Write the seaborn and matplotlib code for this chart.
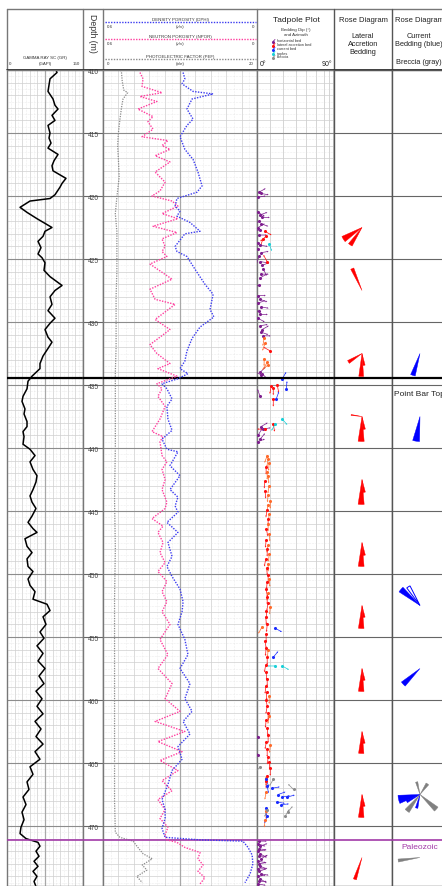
import numpy as np
import matplotlib
matplotlib.use("Agg")
import matplotlib.pyplot as plt
import seaborn as sns
from matplotlib.ticker import MultipleLocator, FixedLocator, NullLocator

sns.set_style("white")
plt.rcParams['font.family'] = ['Liberation Sans', 'DejaVu Sans']

# ---------------- data ----------------
# gamma ray (GAPI)
gr_depth = [410.0, 410.2, 410.7, 411.2, 411.7, 412.3, 412.8, 413.1, 413.6, 414.0,
            414.4, 415.0, 415.4, 415.8, 416.2, 416.7, 417.2, 417.6, 418.0, 418.6,
            419.0, 419.3, 419.9, 420.2, 420.4, 420.9, 421.3, 421.8, 422.5, 422.8,
            423.2, 423.6, 424.1, 424.6, 424.9, 425.3, 425.9, 426.4, 427.1, 427.5,
            428.0, 428.6, 429.1, 429.7, 430.1, 430.6, 431.2, 431.6, 432.1, 432.7,
            433.3, 433.7, 434.3, 434.7, 435.3, 435.9, 436.3, 436.9, 437.3, 437.9,
            438.3, 438.7, 439.1, 439.7, 440.1, 440.6, 441.1, 441.7, 442.2, 442.7,
            443.3, 443.8, 444.3, 444.8, 445.4, 445.9, 446.4, 446.7, 447.2, 447.8,
            448.3, 448.8, 449.4, 449.8, 450.4, 450.9, 451.4, 452.0, 452.4, 452.9,
            453.4, 454.0, 454.6, 455.1, 455.7, 456.3, 456.9, 457.5, 458.1, 458.7,
            459.3, 459.9, 460.5, 461.1, 461.7, 462.3, 462.9, 463.5, 464.1, 464.7,
            465.3, 465.9, 466.5, 467.1, 467.7, 468.3, 468.9, 469.5, 470.1, 470.6,
            471.0, 471.3, 471.6, 472.0, 472.4, 472.8, 473.2, 473.6, 474.0, 474.4,
            474.8]
gr_api = [96.7, 98.7, 84.9, 82.9, 80.9, 90.8, 94.7, 100.7, 88.8, 94.7,
          80.9, 84.9, 82.9, 86.9, 80.9, 100.7, 92.8, 88.8, 90.8, 116.4,
          108.6, 104.6, 94.7, 84.9, 45.4, 25.7, 39.5, 59.2, 88.8, 75.0,
          71.1, 61.2, 67.1, 61.2, 69.1, 75.0, 73.0, 84.9, 108.6, 94.7,
          84.9, 88.8, 80.9, 94.7, 84.9, 75.0, 80.9, 88.8, 80.9, 71.1,
          65.1, 65.1, 49.4, 41.5, 39.5, 31.6, 29.6, 35.5, 33.6, 39.5,
          39.5, 31.6, 33.6, 31.6, 45.4, 55.3, 45.4, 51.3, 59.2, 57.2,
          51.3, 45.4, 49.4, 57.2, 49.4, 41.5, 51.3, 59.2, 35.5, 39.5,
          49.4, 39.5, 41.5, 51.3, 41.5, 45.4, 55.3, 51.3, 79.0, 84.9,
          71.1, 77.0, 65.1, 73.0, 59.2, 71.1, 61.2, 75.0, 63.2, 73.0,
          57.2, 69.1, 59.2, 71.1, 55.3, 67.1, 57.2, 71.1, 55.3, 65.1,
          45.4, 51.3, 39.5, 43.4, 31.6, 37.5, 29.6, 33.6, 27.6, 25.7,
          37.5, 61.2, 65.1, 57.2, 63.2, 53.3, 61.2, 51.3, 59.2, 53.3,
          57.2]

# neutron porosity (v/v)
npor_depth = [410.2, 410.7, 411.3, 411.8, 412.1, 412.5, 413.1, 413.7, 414.1, 414.7,
              415.3, 415.6, 416.0, 416.3, 416.8, 417.3, 418.1, 418.9, 419.6, 420.0,
              420.4, 420.8, 421.4, 421.8, 422.4, 422.9, 423.4, 424.0, 424.4, 424.8,
              425.4, 426.6, 427.4, 428.2, 428.6, 429.8, 430.6, 431.8, 432.5, 433.3,
              433.7, 434.3, 434.9, 435.3, 435.9, 436.7, 437.1, 437.7, 438.7, 439.1,
              439.5, 440.6, 441.1, 441.7, 442.5, 443.3, 444.3, 444.8, 445.6, 446.2,
              446.7, 447.5, 448.3, 449.1, 449.8, 450.6, 451.4, 452.2, 453.0, 454.0,
              455.2, 456.4, 457.5, 458.7, 459.9, 460.9, 461.7, 462.5, 463.3, 464.1,
              464.8, 465.6, 466.4, 467.2, 467.9, 468.7, 469.4, 470.1, 470.7, 471.1,
              471.3, 471.7, 472.1, 472.6, 473.1, 473.6, 474.1, 474.6]
npor = [.456, .444, .448, .370, .456, .390, .464, .405, .425, .405,
        .448, .347, .370, .339, .397, .339, .397, .358, .378, .409,
        .331, .308, .370, .308, .405, .312, .370, .358, .370, .351,
        .417, .331, .417, .397, .319, .397, .339, .417, .390, .339,
        .386, .312, .390, .370, .386, .358, .366, .378, .409, .366,
        .378, .370, .351, .370, .358, .370, .351, .358, .409, .366,
        .386, .366, .378, .358, .386, .351, .370, .351, .370, .339,
        .378, .347, .386, .331, .358, .300, .397, .281, .386, .292,
        .378, .308, .370, .331, .386, .358, .378, .347, .358, .351,
        .312, .281, .222, .230, .210, .230, .203, .222]

# density porosity (v/v)
dphi_depth = [410.2, 410.7, 411.1, 411.7, 411.9, 412.3, 413.1, 413.9, 414.4, 415.3,
              416.3, 417.1, 418.1, 419.2, 419.7, 420.2, 420.8, 421.2, 421.6, 422.1,
              422.8, 423.0, 424.0, 424.4, 424.8, 425.8, 427.0, 427.8, 429.0, 429.6,
              430.4, 431.3, 432.3, 433.1, 433.7, 434.1, 434.5, 434.9, 435.3, 436.1,
              436.7, 437.7, 438.6, 439.3, 440.1, 440.3, 441.4, 442.2, 443.3, 443.9,
              444.6, 445.1, 445.9, 446.7, 447.5, 448.6, 449.4, 450.2, 451.2, 452.2,
              453.0, 454.0, 455.2, 456.4, 457.5, 458.7, 459.9, 460.9, 461.7, 462.7,
              463.7, 464.7, 465.6, 466.7, 467.9, 468.7, 469.4, 470.2, 470.9, 471.1,
              471.2, 471.7, 472.3, 473.0, 473.8, 474.5]
dphi = [.288, .281, .292, .249, .171, .253, .273, .249, .273, .300,
        .281, .249, .230, .214, .234, .312, .319, .300, .312, .261,
        .222, .281, .319, .312, .273, .242, .203, .171, .183, .168,
        .222, .253, .273, .281, .300, .269, .308, .370, .351, .331,
        .351, .347, .331, .370, .351, .308, .339, .300, .339, .308,
        .319, .308, .351, .308, .347, .331, .351, .331, .300, .288,
        .292, .308, .281, .269, .300, .261, .281, .253, .288, .261,
        .308, .292, .331, .347, .370, .358, .358, .370, .358, .222,
        .055, .035, .019, .016, .027, .047]

# photoelectric factor (b/e)
pef_depth = [410.0, 410.2, 410.9, 411.6, 411.8, 412.3, 413.0, 413.9, 415.0, 416.0,
             417.1, 418.5, 420.1, 421.4, 422.8, 424.4, 426.0, 428.0, 430.0, 432.0,
             434.0, 436.0, 440.0, 444.0, 448.0, 452.0, 456.0, 460.0, 464.0, 468.0,
             470.5, 470.9, 471.2, 471.6, 472.2, 472.6, 473.1, 473.5, 474.0, 474.5]
pef = [2.3, 2.4, 2.5, 2.7, 3.2, 2.6, 2.4, 2.2, 2.0, 1.9,
       2.0, 2.1, 1.8, 1.6, 1.8, 1.8, 1.8, 1.7, 1.7, 1.7,
       1.6, 1.6, 1.6, 1.5, 1.6, 1.5, 1.5, 1.5, 1.5, 1.5,
       1.6, 2.2, 3.9, 4.4, 5.2, 6.4, 5.1, 5.7, 4.4, 5.1]

# tadpoles: horizontal bed
hb_depth = [419.7, 419.8, 420.1, 421.3, 421.5, 421.7, 422.0, 422.2, 422.5, 422.7,
            423.1, 423.7, 423.9, 424.2, 424.5, 424.8, 425.2, 425.5, 425.8, 426.2,
            426.5, 427.1, 427.9, 428.2, 428.5, 428.8, 429.1, 429.4, 429.7, 430.3,
            430.6, 430.8, 431.1, 434.0, 434.1, 434.2, 435.9, 438.3, 438.5, 439.0,
            439.3, 439.5, 462.9, 464.4, 471.2, 471.4, 471.6, 471.8, 472.0, 472.2,
            472.4, 472.6, 472.8, 473.0, 473.2, 473.4, 473.6, 473.8, 474.0, 474.2,
            474.4, 474.6]
hb_dip = [1.5, 3.0, 0.8, 0.8, 2.3, 3.8, 1.5, 3.0, 0.8, 2.3,
          1.5, 0.5, 2.3, 0.8, 3.0, 1.5, 2.3, 3.8, 4.5, 3.0,
          2.3, 1.5, 0.8, 2.3, 0.8, 3.0, 1.5, 2.3, 0.8, 2.3,
          3.8, 3.0, 4.5, 2.3, 3.8, 3.0, 2.3, 3.0, 4.5, 0.8,
          2.3, 0.5, 0.8, 0.8, 1.5, 0.8, 2.3, 1.5, 0.8, 2.3,
          1.5, 3.0, 0.8, 1.5, 2.3, 0.8, 1.5, 3.0, 0.8, 2.3,
          1.5, 0.8]
hb_az = [60, 100, 80, 120, 70, 90, 240, 110, 60, 260,
         90, 280, 100, 250, 80, 200, 100, 70, 150, 90,
         60, 270, 90, 110, 70, 100, 250, 90, 120, 80,
         60, 110, 90, 45, 135, 300, 340, 60, 80, 30,
         40, 70, 300, 330, 90, 110, 70, 100, 80, 120,
         90, 60, 100, 80, 110, 90, 70, 100, 80, 120,
         90, 100]

# lateral accretion bed (red)
la_depth = [422.8, 423.2, 423.4, 425.2, 432.3, 435.1, 435.2, 435.0, 436.1, 438.1,
            438.5, 441.5, 442.6, 443.4, 444.9, 445.6, 446.4, 447.3, 448.0, 448.8,
            449.5, 450.1, 450.6, 451.2, 451.8, 452.3, 452.9, 453.4, 454.0, 454.8,
            455.3, 455.9, 456.6, 457.2, 457.8, 458.3, 458.9, 459.4, 460.0, 460.5,
            461.0, 461.6, 462.2, 462.8, 463.3, 463.9, 464.5, 464.9, 465.4, 466.0,
            466.4]
la_dip = [5.9, 6.8, 4.5, 7.6, 9.9, 10.6, 12.2, 15.3, 12.2, 12.2,
          5.9, 6.8, 5.9, 6.0, 7.6, 8.3, 7.0, 6.8, 7.6, 6.5,
          7.2, 8.3, 7.6, 6.8, 7.6, 8.3, 7.0, 6.5, 7.6, 6.8,
          5.9, 6.8, 7.6, 6.5, 6.8, 7.6, 6.5, 7.2, 6.8, 7.6,
          8.3, 6.8, 7.6, 8.3, 7.0, 7.6, 8.3, 9.1, 9.9, 7.6,
          6.8]
la_az = [120, 230, 200, 330, 300, 190, 180, 170, 180, 170,
         270, 180, 185, 175, 190, 180, 170, 185, 180, 190,
         175, 180, 185, 170, 180, 190, 180, 175, 185, 180,
         170, 185, 180, 190, 175, 180, 185, 180, 170, 190,
         180, 185, 175, 180, 190, 180, 185, 175, 180, 190,
         180]

# lateral accretion bed, lighter (orange)
lo_depth = [431.3, 431.7, 432.9, 433.2, 433.4, 440.6, 440.9, 441.2, 441.9, 442.2,
            443.0, 443.7, 444.2, 444.5, 445.2, 446.0, 446.8, 447.7, 448.4, 449.2,
            450.4, 451.5, 452.6, 454.2, 456.0, 459.7, 461.3, 463.6, 466.2, 467.3,
            468.8, 469.5]
lo_dip = [5.3, 6.0, 5.3, 7.6, 8.3, 7.6, 8.3, 9.1, 7.6, 8.3,
          9.1, 8.3, 9.9, 8.3, 9.1, 8.3, 9.1, 8.3, 9.1, 8.3,
          9.1, 8.3, 9.9, 3.8, 8.3, 9.1, 9.1, 9.9, 6.8, 6.8,
          6.8, 6.0]
lo_az = [190, 200, 180, 210, 230, 200, 190, 185, 180, 175,
         190, 185, 180, 190, 185, 180, 175, 190, 185, 180,
         175, 190, 185, 210, 185, 180, 190, 185, 180, 190,
         180, 185]

# current bed (blue)
cb_depth = [434.5, 435.3, 436.1, 454.3, 456.6, 466.3, 466.8, 467.0, 467.5, 467.7,
            467.7, 468.1, 468.3, 468.6, 469.2]
cb_dip = [19.2, 22.4, 14.5, 13.7, 12.2, 6.8, 7.6, 11.4, 16.0, 19.2,
          23.2, 15.3, 18.4, 6.8, 7.6]
cb_az = [30, 5, 20, 120, 40, 160, 170, 80, 70, 80,
         75, 100, 85, 180, 200]

# ripples (cyan)
rp_depth = [423.8, 437.7, 438.1, 457.3, 457.3]
rp_dip = [9.1, 19.2, 13.7, 13.7, 19.2]
rp_az = [160, 140, 210, 270, 120]

# breccia (gray)
br_depth = [465.3, 466.3, 467.1, 468.7, 469.2, 468.9]
br_dip = [2.3, 12.2, 28.3, 7.6, 21.6, 23.5]
br_az = [220, 210, 315, 200, 30, 40]

# rose diagram: lateral accretion bedding
la_rose_depth = [422.5, 427.5, 432.5, 437.5, 442.5, 447.5, 452.5, 457.5, 462.5, 467.5, 472.5]
la_rose_az = [[238, 214], [336], [182, 170, 238], [182, 170, 278], [182, 170], [182, 170],
              [182, 170], [182, 170], [182, 170], [182, 170], [198]]
la_rose_len = [[22, 21], [24], [23, 12, 16], [25, 13, 11], [25, 13], [24, 13],
               [23, 12], [23, 12], [22, 12], [23, 12], [23]]
la_rose_width = [[16, 12], [8], [12, 10, 12], [14, 10, 5], [14, 10], [14, 10],
                 [14, 10], [14, 10], [14, 10], [14, 10], [8]]

# rose diagram: current bedding (blue) / breccia (gray)
cb_rose_depth = [432.5, 437.5, 452.5, 457.5, 467.5, 472.5]
cb_rose_az = [[198], [189], [310, 328], [227], [257, 242, 194, 35, 345, 132, 218], [262]]
cb_rose_len = [[23], [25], [25, 22], [23], [22, 15, 14, 13, 13, 22, 21], [22]]
cb_rose_width = [[12], [16], [14, 10], [14], [22, 10, 10, 14, 10, 14, 14], [8]]
cb_rose_kind = [['c'], ['c'], ['c', 'co'], ['c'], ['c', 'c', 'c', 'b', 'b', 'b', 'b'], ['b']]

boundary_black = 434.45
boundary_purple = 471.1

# ---------------- layout ----------------
W, H = 442, 887
fig = plt.figure(figsize=(W / 100, H / 100), dpi=100)


def box(x0, y0, x1, y1):
    return [x0 / W, 1 - y1 / H, (x1 - x0) / W, (y1 - y0) / H]


TOP, BOT = 71, 887
D0 = 410.0
D1 = D0 + (BOT - TOP) / 12.6

ax_gr = fig.add_axes(box(7, TOP, 83, BOT))
ax_dep = fig.add_axes(box(83, TOP, 103, BOT))
ax_por = fig.add_axes(box(103, TOP, 257, BOT))
ax_tad = fig.add_axes(box(257, TOP, 334, BOT))
ax_r1 = fig.add_axes(box(334, TOP, 392, BOT))
ax_r2 = fig.add_axes(box(392, TOP, 470, BOT))

GRID = '#cfcfcf'


def depth_grid(ax, fine=True):
    ax.set_ylim(D1, D0)
    ax.tick_params(which='both', length=0, labelbottom=False, labelleft=False)
    if fine:
        ax.yaxis.set_major_locator(MultipleLocator(1))
        ax.yaxis.set_minor_locator(MultipleLocator(0.5))
        ax.grid(axis='y', which='major', color=GRID, lw=0.5)
        ax.grid(axis='y', which='minor', color='#dddddd', lw=0.4, ls=':')
    else:
        ax.yaxis.set_major_locator(NullLocator())
    for d in range(410, 476, 5):
        ax.axhline(d, color='#8c8c8c' if fine else '#666666', lw=0.8, zorder=1.6)
    ax.axhline(boundary_black, color='black', lw=1.6, zorder=6)
    ax.axhline(boundary_purple, color='#a23aa8', lw=1.2, zorder=6)
    for s in ax.spines.values():
        s.set_color('#777777')
        s.set_linewidth(1.0)


# gamma ray track
sns.lineplot(x=gr_api, y=gr_depth, sort=False, estimator=None, color='black',
             lw=1.1, ax=ax_gr)
ax_gr.set_xlim(0, 150)
ax_gr.xaxis.set_major_locator(MultipleLocator(15))
ax_gr.xaxis.set_minor_locator(MultipleLocator(7.5))
ax_gr.grid(axis='x', which='major', color=GRID, lw=0.5)
ax_gr.grid(axis='x', which='minor', color='#dddddd', lw=0.4, ls=':')
ax_gr.axvline(75, color='#a8a8a8', lw=0.9, zorder=1.6)
depth_grid(ax_gr)
ax_gr.set_xlabel('')
ax_gr.set_ylabel('')

# depth track
ax_dep.set_xlim(0, 1)
depth_grid(ax_dep, fine=False)
for d in range(410, 475, 5):
    ax_dep.text(0.5, d + 0.15, str(d), transform=ax_dep.get_yaxis_transform(),
                ha='center', va='center', fontsize=4.8, color='#444444')

# porosity / PEF track
sns.lineplot(x=pef, y=pef_depth, sort=False, estimator=None, color='#8a8a8a',
             lw=0.9, ls=(0, (1, 1)), ax=ax_por)
ax_por.set_xlim(0, 20)
ax_por.xaxis.set_major_locator(MultipleLocator(2))
ax_por.xaxis.set_minor_locator(MultipleLocator(1))
ax_por.grid(axis='x', which='major', color=GRID, lw=0.5)
ax_por.grid(axis='x', which='minor', color='#dddddd', lw=0.4, ls=':')
ax_por.axvline(10, color='#a8a8a8', lw=0.9, zorder=1.6)
depth_grid(ax_por)
ax_por.set_xlabel('')
ax_por.set_ylabel('')

ax_phi = ax_por.twiny()
sns.lineplot(x=npor, y=npor_depth, sort=False, estimator=None, color='#ff3d9e',
             lw=1.0, ls=(0, (1, 1)), ax=ax_phi)
sns.lineplot(x=dphi, y=dphi_depth, sort=False, estimator=None, color='#3b3bf0',
             lw=1.0, ls=(0, (1, 1)), ax=ax_phi)
ax_phi.set_xlim(0.6, 0)
ax_phi.set_ylim(D1, D0)
ax_phi.axis('off')


# tadpole track: sine-scaled dip axis
def fwd(a):
    return np.sin(np.radians(np.clip(a, 0, 90)))


def inv(s):
    return np.degrees(np.arcsin(np.clip(s, 0, 1)))


ax_tad.set_xscale('function', functions=(fwd, inv))
ax_tad.set_xlim(0, 90)
ax_tad.xaxis.set_major_locator(FixedLocator(list(range(0, 91, 10))))
ax_tad.xaxis.set_minor_locator(NullLocator())
ax_tad.grid(axis='x', which='major', color=GRID, lw=0.6)
depth_grid(ax_tad)

tad_sets = [
    (hb_depth, hb_dip, hb_az, '#7f1f8f'),
    (lo_depth, lo_dip, lo_az, '#ff6a2a'),
    (la_depth, la_dip, la_az, '#ff1010'),
    (cb_depth, cb_dip, cb_az, '#1a2cff'),
    (rp_depth, rp_dip, rp_az, '#19d0d8'),
    (br_depth, br_dip, br_az, '#8c8c8c'),
]
for dep, dip, az, col in tad_sets:
    a = np.radians(az)
    ax_tad.quiver(dip, dep, np.sin(a), np.cos(a), color=col, angles='uv',
                  scale_units='inches', scale=13, units='inches', width=0.007,
                  headwidth=2.6, headlength=2.6, headaxislength=2.3,
                  pivot='tail', zorder=4)
    sns.scatterplot(x=dip, y=dep, color=col, s=5, linewidth=0, ax=ax_tad, zorder=5)
ax_tad.set_xlim(0, 90)
ax_tad.set_ylim(D1, D0)
ax_tad.set_xlabel('')
ax_tad.set_ylabel('')

# rose columns
for ax in (ax_r1, ax_r2):
    ax.set_xlim(0, 1)
    depth_grid(ax, fine=False)
    for s in ax.spines.values():
        s.set_color('#555555')

# labels inside the rose column (the first one runs off the right edge, as in the original)
fig.text(394 / W, 1 - 394 / H, 'Point Bar Top', fontsize=6, color='#222222',
         ha='left', va='center')
fig.text(420 / W, 1 - 848 / H, 'Paleozoic', fontsize=6, color='#a23aa8',
         ha='center', va='center')

R = 27
rose_col = {'r': '#ff0000', 'c': '#0000ff', 'b': '#808080'}


def draw_rose(ax_col, cx, depth, az, ln, wd, kinds):
    ypx = H - ax_col.transData.transform((0.5, depth))[1]
    pax = fig.add_axes(box(cx - R, ypx - R, cx + R, ypx + R), projection='polar')
    pax.set_theta_zero_location('N')
    pax.set_theta_direction(-1)
    for a, l, w, k in zip(az, ln, wd, kinds):
        if k == 'co':
            pax.bar(np.radians(a), l, width=np.radians(w), bottom=0,
                    color='white', edgecolor=rose_col['c'], lw=0.7)
        else:
            pax.bar(np.radians(a), l, width=np.radians(w), bottom=0,
                    color=rose_col[k], edgecolor=rose_col[k], lw=0.3)
    pax.set_ylim(0, R)
    pax.axis('off')
    pax.patch.set_alpha(0)


for i, d in enumerate(la_rose_depth):
    draw_rose(ax_r1, 362, d, la_rose_az[i], la_rose_len[i], la_rose_width[i],
              ['r'] * len(la_rose_az[i]))
for i, d in enumerate(cb_rose_depth):
    draw_rose(ax_r2, 420, d, cb_rose_az[i], cb_rose_len[i], cb_rose_width[i],
              cb_rose_kind[i])

# ---------------- header ----------------
ax_h = fig.add_axes(box(0, 0, W, TOP))
ax_h.set_xlim(0, W)
ax_h.set_ylim(TOP, 0)
ax_h.axis('off')
ax_h.plot([7, W], [10, 10], color='#777777', lw=1.0)
for xx in (7, 83, 103, 257):
    ax_h.plot([xx, xx], [10, TOP], color='#777777', lw=1.0)
for xx in (334, 392):
    ax_h.plot([xx, xx], [10, TOP], color='#555555', lw=1.0)
ax_h.plot([7, W], [TOP - 0.5, TOP - 0.5], color='#333333', lw=1.3)

small = dict(fontsize=3.2, color='#333333', va='center')
ax_h.text(45, 58, 'GAMMA RAY SC (GR)', ha='center', **small)
ax_h.text(45, 64, '(GAPI)', ha='center', **small)
ax_h.text(9, 64, '0', ha='left', **small)
ax_h.text(80, 64, '150', ha='right', **small)

ax_h.text(93, 33, 'Depth (m)', rotation=-90, ha='center', va='center',
          fontsize=6.3, color='#333333')

ax_h.text(180, 20, 'DENSITY POROSITY (DPHI)', ha='center', **small)
ax_h.plot([105, 256], [23, 23], color='#3b3bf0', lw=1.0, ls=(0, (1, 1)))
ax_h.text(107, 27, '0.6', ha='left', **small)
ax_h.text(180, 27, '(v/v)', ha='center', **small)
ax_h.text(254, 27, '0', ha='right', **small)
ax_h.text(180, 37, 'NEUTRON POROSITY (NPOR)', ha='center', **small)
ax_h.plot([105, 256], [40, 40], color='#ff3d9e', lw=1.0, ls=(0, (1, 1)))
ax_h.text(107, 44, '0.6', ha='left', **small)
ax_h.text(180, 44, '(v/v)', ha='center', **small)
ax_h.text(254, 44, '0', ha='right', **small)
ax_h.text(180, 57, 'PHOTOELECTRIC FACTOR (PEF)', ha='center', **small)
ax_h.plot([105, 256], [60, 60], color='#8a8a8a', lw=1.0, ls=(0, (1, 1)))
ax_h.text(107, 64, '0', ha='left', **small)
ax_h.text(180, 64, '(b/e)', ha='center', **small)
ax_h.text(254, 64, '20', ha='right', **small)

ax_h.text(296, 20, 'Tadpole Plot', ha='center', va='center', fontsize=6, color='#222222')
ax_h.text(296, 30, 'Bedding Dip (\u00b0)', ha='center', va='center', fontsize=3.2, color='#333333')
ax_h.text(296, 34.5, 'and Azimuth', ha='center', va='center', fontsize=3.2, color='#333333')
leg_names = ['horizontal bed', 'lateral accretion bed', 'current bed', 'ripples', 'breccia']
leg_cols = ['#7f1f8f', '#ff1010', '#1a2cff', '#19d0d8', '#8c8c8c']
for i, (nm, c) in enumerate(zip(leg_names, leg_cols)):
    yy = 41.5 + i * 4
    ax_h.plot([273, 275], [yy + 1, yy - 1], color=c, lw=0.6)
    ax_h.plot([273], [yy + 1], 'o', color=c, ms=1.2)
    ax_h.text(277, yy, nm, ha='left', va='center', fontsize=2.8, color='#333333')
ax_h.text(263, 64, '0\u00b0', ha='center', va='center', fontsize=5, color='#222222')
ax_h.text(327, 64, '90\u00b0', ha='center', va='center', fontsize=5, color='#222222')

ax_h.text(363, 20, 'Rose Diagram', ha='center', va='center', fontsize=5.5, color='#222222')
for yy, t in ((37, 'Lateral'), (45, 'Accretion'), (53, 'Bedding')):
    ax_h.text(363, yy, t, ha='center', va='center', fontsize=5.3, color='#222222')
ax_h.text(419, 20, 'Rose Diagram', ha='center', va='center', fontsize=5.5, color='#222222')
ax_h.text(419, 37, 'Current', ha='center', va='center', fontsize=5.3, color='#222222')
ax_h.text(419, 45, 'Bedding (blue)', ha='center', va='center', fontsize=5.3, color='#222222')
ax_h.text(419, 63, 'Breccia (gray)', ha='center', va='center', fontsize=5.3, color='#222222')

fig.savefig('out.png', dpi=100)
